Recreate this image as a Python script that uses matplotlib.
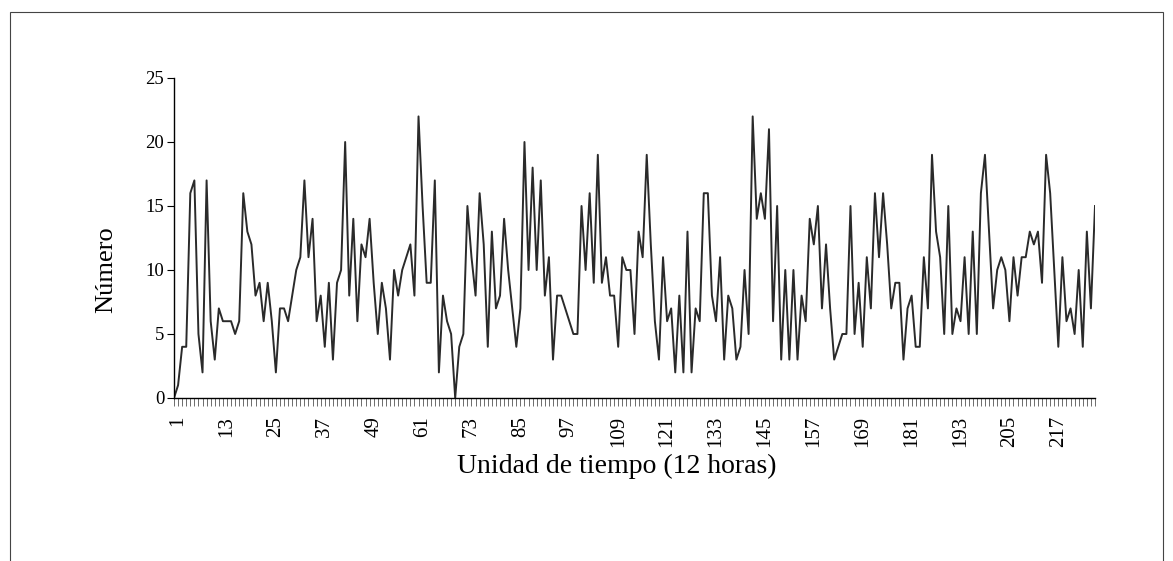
import matplotlib
matplotlib.use("Agg")
import matplotlib.pyplot as plt
from matplotlib.patches import Rectangle

values = [0, 1, 4, 4, 16, 17, 5, 2, 17, 6, 3, 7, 6, 6, 6, 5, 6, 16, 13, 12,
          8, 9, 6, 9, 6, 2, 7, 7, 6, 8, 10, 11, 17, 11, 14, 6, 8, 4, 9, 3, 9,
          10, 20, 8, 14, 6, 12, 11, 14, 9, 5, 9, 7, 3, 10, 8, 10, 11, 12, 8, 22,
          15, 9, 9, 17, 2, 8, 6, 5, 0, 4, 5, 15, 11, 8, 16, 12, 4, 13, 7, 8,
          14, 10, 7, 4, 7, 20, 10, 18, 10, 17, 8, 11, 3, 8, 8, 7, 6, 5, 5, 15, 10,
          16, 9, 19, 9, 11, 8, 8, 4, 11, 10, 10, 5, 13, 11, 19, 12, 6, 3, 11, 6,
          7, 2, 8, 2, 13, 2, 7, 6, 16, 16, 8, 6, 11, 3, 8, 7, 3, 4, 10, 5,
          22, 14, 16, 14, 21, 6, 15, 3, 10, 3, 10, 3, 8, 6, 14, 12, 15, 7, 12, 7,
          3, 4, 5, 5, 15, 5, 9, 4, 11, 7, 16, 11, 16, 12, 7, 9, 9, 3, 7, 8,
          4, 4, 11, 7, 19, 13, 11, 5, 15, 5, 7, 6, 11, 5, 13, 5, 16, 19, 13, 7,
          10, 11, 10, 6, 11, 8, 11, 11, 13, 12, 13, 9, 19, 16, 10, 4, 11, 6, 7, 5, 10,
          4, 13, 7, 15]
periods = list(range(0, len(values)))
x_tick_labels = [str(v) for v in range(1, 218, 12)]
y_ticks = [0, 5, 10, 15, 20, 25]
x_label = "Unidad de tiempo (12 horas)"
y_label = "Número"

plt.rcParams['font.family'] = ['Liberation Serif', 'DejaVu Serif']

W, H = 1173, 561
fig = plt.figure(figsize=(W / 100, H / 100), dpi=100)
ax = fig.add_axes([174 / W, 1 - 398 / H, (1095 - 174) / W, (398 - 78) / H])

ax.plot(periods, values, color='#2a2a2a', linewidth=1.4)
ax.set_xlim(periods[0], periods[-1])
ax.set_ylim(0, 25)

ax.set_yticks(y_ticks)
ax.set_yticklabels([str(v) for v in y_ticks], fontsize=13.5)
ax.set_xticks([int(s) for s in x_tick_labels])
ax.set_xticklabels(x_tick_labels, rotation=90, fontsize=15)
ax.set_xticks(periods, minor=True)
ax.tick_params(axis='x', which='both', direction='out', length=6, width=0.6, color='#555555', pad=7)
ax.tick_params(axis='y', direction='out', length=5, width=0.8, pad=2)

for s in ['top', 'right']:
    ax.spines[s].set_visible(False)
ax.spines['left'].set_linewidth(1.0)
ax.spines['bottom'].set_linewidth(1.0)

fig.text(617 / W, 1 - 466 / H, x_label, fontsize=20, ha='center', va='center')
fig.text(106 / W, 1 - 270 / H, y_label, fontsize=19, ha='center', va='center', rotation=90)

fig.add_artist(Rectangle((10 / W, -0.1), (1163 - 10) / W, 1.1 - 12 / H,
                         transform=fig.transFigure, fill=False,
                         edgecolor='#444444', linewidth=0.8))

fig.savefig("out.png", dpi=100)
